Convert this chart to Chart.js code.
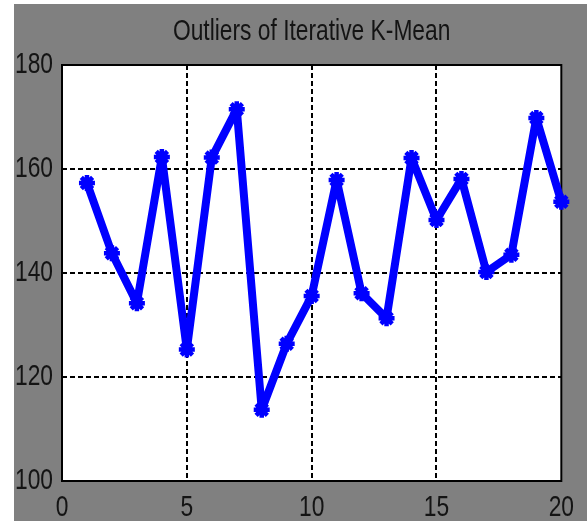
<!DOCTYPE html>
<html>
<head>
<meta charset="utf-8">
<script src="https://cdn.jsdelivr.net/npm/chart.js@4/dist/chart.umd.min.js"></script>
<style>
  html, body { margin: 0; padding: 0; background: #ffffff; }
  #wrap { width: 587px; height: 521px; }
</style>
</head>
<body>
<div id="wrap"><canvas id="c" width="587" height="521"></canvas></div>
<script>
// Iteration index and number of outliers found at each step
const iterations = [1, 2, 3, 4, 5, 6, 7, 8, 9, 10, 11, 12, 13, 14, 15, 16, 17, 18, 19, 20];
const outliers = [157.3, 143.8, 134.2, 162.3, 125.3, 162.2, 171.5, 113.7, 126.4, 135.6,
                  157.9, 136.1, 131.3, 162.1, 150.2, 158.1, 140.2, 143.5, 169.8, 153.7];
const xTicks = [0, 5, 10, 15, 20];
const yTicks = [100, 120, 140, 160, 180];
const chartTitle = 'Outliers of Iterative K-Mean';

const FONT = '"Liberation Sans", Arial, sans-serif';
const TEXT = '#141414';
const TEXT_SQUEEZE = 0.76;   // condensed lettering

// Draw every label horizontally condensed around its anchor point
const condensedText = {
  id: 'condensedText',
  beforeInit(chart) {
    const ctx = chart.ctx;
    const fill = ctx.fillText.bind(ctx);
    ctx.fillText = function (text, x, y) {
      ctx.save();
      ctx.translate(x, y);
      ctx.scale(TEXT_SQUEEZE, 1);
      fill(text, 0, 0);
      ctx.restore();
    };
  }
};

// Grey figure backdrop with a white axes area
const backdrop = {
  id: 'backdrop',
  beforeDraw(chart) {
    const { ctx, chartArea: a } = chart;
    ctx.save();
    ctx.fillStyle = '#ffffff';
    ctx.fillRect(0, 0, chart.width, chart.height);
    ctx.fillStyle = '#808080';
    ctx.fillRect(14, 4, chart.width - 14, chart.height - 4);
    ctx.fillStyle = '#ffffff';
    ctx.fillRect(a.left, a.top, a.right - a.left, a.bottom - a.top);
    ctx.restore();
  }
};

// Solid box around the axes area, under the data line
const axesBox = {
  id: 'axesBox',
  beforeDatasetsDraw(chart) {
    const { ctx, chartArea: a } = chart;
    ctx.save();
    ctx.strokeStyle = '#000000';
    ctx.lineWidth = 2;
    ctx.setLineDash([]);
    ctx.strokeRect(a.left, a.top, a.right - a.left, a.bottom - a.top);
    ctx.restore();
  }
};

const innerGrid = (vals) => (c) => {
  const v = c.tick && c.tick.value;
  return (v === vals[0] || v === vals[vals.length - 1]) ? 'rgba(0,0,0,0)' : '#000000';
};

new Chart(document.getElementById('c'), {
  type: 'line',
  data: {
    datasets: [{
      data: iterations.map((x, i) => ({ x, y: outliers[i] })),
      borderColor: '#0000ff',
      backgroundColor: '#0000ff',
      borderWidth: 8,
      borderJoinStyle: 'round',
      borderCapStyle: 'round',
      pointStyle: 'star',
      pointRadius: 8,
      pointBorderWidth: 4.5,
      pointBorderColor: '#0000ff',
      pointBackgroundColor: '#0000ff',
      tension: 0,
      fill: false,
      clip: 12
    }]
  },
  options: {
    responsive: false,
    animation: false,
    events: [],
    layout: { padding: { left: 0, right: 25, top: 0, bottom: 0 } },
    plugins: {
      legend: { display: false },
      tooltip: { enabled: false },
      title: {
        display: true,
        fullSize: false,
        text: chartTitle,
        color: TEXT,
        font: { family: FONT, size: 30, weight: 'normal', lineHeight: 1.2 },
        padding: { top: 14, bottom: 15 }
      }
    },
    scales: {
      x: {
        type: 'linear',
        min: xTicks[0],
        max: xTicks[xTicks.length - 1],
        afterBuildTicks: (s) => { s.ticks = xTicks.map(v => ({ value: v })); },
        afterFit: (s) => { s.height = 40; },
        ticks: { color: TEXT, padding: 9, maxRotation: 0, autoSkip: false,
                 font: { family: FONT, size: 30 } },
        grid: { color: innerGrid(xTicks), lineWidth: 2, drawTicks: false },
        border: { display: false, dash: [5, 3] }
      },
      y: {
        type: 'linear',
        min: yTicks[0],
        max: yTicks[yTicks.length - 1],
        afterBuildTicks: (s) => { s.ticks = yTicks.map(v => ({ value: v })); },
        afterFit: (s) => { s.width = 62; },
        ticks: { color: TEXT, padding: 9, autoSkip: false,
                 font: { family: FONT, size: 30 } },
        grid: { color: innerGrid(yTicks), lineWidth: 2, drawTicks: false },
        border: { display: false, dash: [5, 3] }
      }
    }
  },
  plugins: [condensedText, backdrop, axesBox]
});
</script>
</body>
</html>
